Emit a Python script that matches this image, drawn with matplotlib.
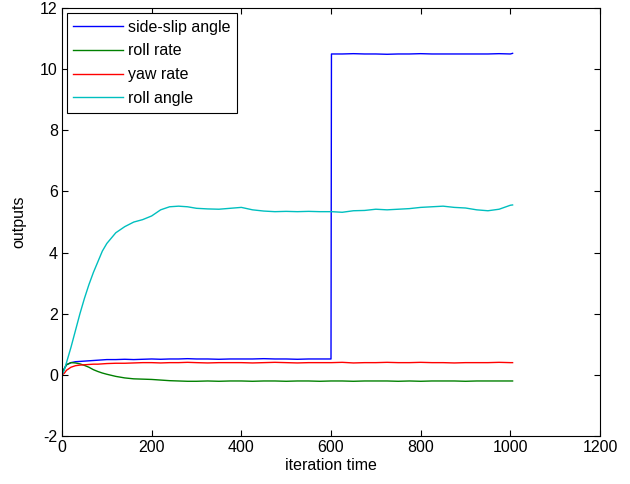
import matplotlib.pyplot as plt

plt.rcParams['font.family'] = ['Liberation Sans', 'DejaVu Sans']
plt.rcParams['font.size'] = 11.5
plt.rcParams['axes.unicode_minus'] = False

# sampled iteration steps
iters = [0, 5, 10, 20, 30, 40, 50, 60, 70, 80, 90, 100, 120, 140, 160, 180,
         200, 220, 240, 260, 280, 300, 325, 350, 375, 400, 425, 450, 475, 500,
         525, 550, 575, 600, 601, 625, 650, 675, 700, 725, 750, 775, 800, 825,
         850, 875, 900, 925, 950, 975, 1000, 1005]

side_slip = [0.05, 0.2, 0.33, 0.4, 0.43, 0.44, 0.45, 0.46, 0.47, 0.48, 0.49, 0.5, 0.5, 0.51, 0.5, 0.51,
             0.52, 0.51, 0.52, 0.52, 0.53, 0.52, 0.52, 0.51, 0.52, 0.52, 0.52, 0.53, 0.52, 0.52,
             0.51, 0.52, 0.52, 0.52, 10.5, 10.5, 10.51, 10.5, 10.5, 10.49, 10.5, 10.5, 10.51, 10.5,
             10.5, 10.5, 10.5, 10.5, 10.5, 10.51, 10.5, 10.52]

roll_rate = [0.0, 0.2, 0.33, 0.4, 0.39, 0.36, 0.31, 0.25, 0.17, 0.11, 0.06, 0.02, -0.05, -0.1, -0.13, -0.14,
             -0.15, -0.17, -0.19, -0.2, -0.21, -0.21, -0.2, -0.21, -0.2, -0.2, -0.21, -0.2, -0.2, -0.21,
             -0.2, -0.2, -0.21, -0.2, -0.2, -0.2, -0.21, -0.2, -0.2, -0.2, -0.21, -0.2, -0.21, -0.2,
             -0.2, -0.2, -0.21, -0.2, -0.2, -0.2, -0.2, -0.2]

yaw_rate = [0.0, 0.05, 0.15, 0.25, 0.3, 0.32, 0.33, 0.34, 0.35, 0.35, 0.36, 0.37, 0.38, 0.38, 0.39, 0.4,
            0.4, 0.39, 0.4, 0.4, 0.41, 0.4, 0.39, 0.4, 0.4, 0.4, 0.39, 0.4, 0.41, 0.4,
            0.39, 0.4, 0.4, 0.4, 0.4, 0.41, 0.39, 0.4, 0.4, 0.41, 0.4, 0.4, 0.41, 0.4,
            0.4, 0.39, 0.4, 0.4, 0.4, 0.41, 0.4, 0.4]

roll_angle = [0.0, 0.15, 0.4, 0.9, 1.45, 2.0, 2.5, 2.95, 3.35, 3.7, 4.05, 4.3, 4.65, 4.85, 5.0, 5.08,
              5.2, 5.4, 5.5, 5.52, 5.5, 5.45, 5.43, 5.42, 5.45, 5.48, 5.4, 5.36, 5.34, 5.35,
              5.34, 5.35, 5.34, 5.34, 5.34, 5.32, 5.37, 5.38, 5.42, 5.4, 5.42, 5.44, 5.48, 5.5,
              5.52, 5.48, 5.46, 5.4, 5.37, 5.42, 5.55, 5.56]

fig = plt.figure(figsize=(6.3, 4.84), dpi=100)
ax = fig.add_axes([0.0984, 0.0992, 0.854, 0.884])

ax.plot(iters, side_slip, color=(0, 0, 1), lw=1, label='side-slip angle')
ax.plot(iters, roll_rate, color=(0, 0.5, 0), lw=1, label='roll rate')
ax.plot(iters, yaw_rate, color=(1, 0, 0), lw=1, label='yaw rate')
ax.plot(iters, roll_angle, color=(0, 0.75, 0.75), lw=1, label='roll angle')

ax.set_xlim(0, 1200)
ax.set_ylim(-2, 12)
ax.set_xticks(range(0, 1201, 200))
ax.set_yticks(range(-2, 13, 2))
ax.tick_params(direction='in', top=True, right=True, length=4, width=0.8, pad=3)
for s in ax.spines.values():
    s.set_linewidth(0.8)

ax.set_xlabel('iteration time', labelpad=2)
ax.set_ylabel('outputs', labelpad=10)

leg = ax.legend(loc='upper left', fancybox=False, edgecolor='black',
                handlelength=3.1, handletextpad=0.3, labelspacing=0.55,
                borderaxespad=0.3, borderpad=0.42, framealpha=1)
leg.get_frame().set_linewidth(0.8)

plt.savefig('out.png', dpi=100)
